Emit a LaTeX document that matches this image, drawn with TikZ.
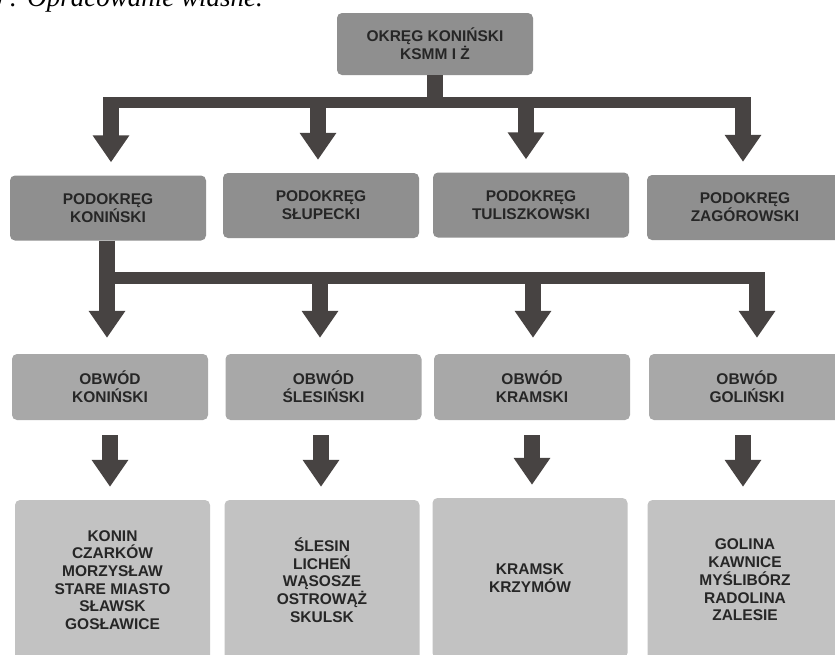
\documentclass[tikz,border=0pt]{standalone}
\usepackage{fontspec}
\setmainfont{Liberation Sans}
\newfontfamily\capfont{Liberation Serif}
\usetikzlibrary{arrows.meta}

\definecolor{boxdark}{HTML}{8F8F8F}
\definecolor{boxmid}{HTML}{A8A8A8}
\definecolor{boxlight}{HTML}{C2C2C2}
\definecolor{arrowgray}{HTML}{474342}

\begin{document}
\begin{tikzpicture}[x=1pt, y=-1pt]
    % Define styles
    \tikzset{
        orgbox/.style={rounded corners=5pt, minimum width=196pt, align=center, inner sep=0pt,
            text=black!85, font=\bfseries\fontsize{15.5}{17.7}\selectfont},
        okregbox/.style={orgbox, fill=boxdark, minimum height=62pt},
        podbox/.style={orgbox, fill=boxdark, minimum height=65pt},
        obwodbox/.style={orgbox, fill=boxmid, minimum height=66pt},
        placebox/.style={orgbox, fill=boxlight, minimum height=160pt, minimum width=195pt},
        barline/.style={arrowgray, line width=11.5pt},
        stemline/.style={arrowgray, line width=16pt},
        blockarrow/.style={stemline, -{Triangle[width=35pt, length=27pt]}}
    }

    % Page size
    \useasboundingbox (0,0) rectangle (835,654);
    \fill[white] (0,0) rectangle (835,654);

    % Source line (cut at the top)
    \node[anchor=base west, inner sep=0pt, font=\capfont\itshape\fontsize{27}{32}\selectfont]
        (zrodlo) at (-6.6,6) {) : Opracowanie własne.};

    % Top level
    \node[okregbox] (okreg) at (435,44) {OKRĘG KONIŃSKI\\KSMM I Ż};

    % Subdistricts
    \node[podbox] (konin) at (108,208) {PODOKRĘG\\KONIŃSKI};
    \node[podbox] (slupca) at (321,205.5) {PODOKRĘG\\SŁUPECKI};
    \node[podbox] (tuliszkow) at (531,205) {PODOKRĘG\\TULISZKOWSKI};
    \node[podbox] (zagorow) at (745,207.5) {PODOKRĘG\\ZAGÓROWSKI};

    % Circuits
    \node[obwodbox] (obkonin) at (110,387) {OBWÓD\\KONIŃSKI};
    \node[obwodbox] (obslesin) at (323.5,387) {OBWÓD\\ŚLESIŃSKI};
    \node[obwodbox] (obkramsk) at (532,387) {OBWÓD\\KRAMSKI};
    \node[obwodbox] (obgolina) at (747,387) {OBWÓD\\GOLIŃSKI};

    % Places
    \node[placebox] (mkonin) at (112.5,580) {KONIN\\CZARKÓW\\MORZYSŁAW\\STARE MIASTO\\SŁAWSK\\GOSŁAWICE};
    \node[placebox] (mslesin) at (322,580) {ŚLESIN\\LICHEŃ\\WĄSOSZE\\OSTROWĄŻ\\SKULSK};
    \node[placebox] (mkramsk) at (530,578) {KRAMSK\\KRZYMÓW};
    \node[placebox] (mgolina) at (745,580) {GOLINA\\KAWNICE\\MYŚLIBÓRZ\\RADOLINA\\ZALESIE};

    % First fork
    \coordinate (b1) at (111,102.5);
    \coordinate (b2) at (318,102.5);
    \coordinate (b3) at (526,102.5);
    \coordinate (b4) at (743,102.5);
    \draw[stemline] (okreg.south) -- (okreg.south |- b1);
    \draw[barline] ([xshift=-8pt]b1) -- ([xshift=8pt]b4);
    \foreach \c/\n in {b1/konin, b2/slupca, b3/tuliszkow, b4/zagorow}
        \draw[blockarrow, shorten >=13pt] (\c) -- (\c |- \n.north);

    % Second fork
    \coordinate (d1) at (107,278);
    \coordinate (d2) at (320,278);
    \coordinate (d3) at (533,278);
    \coordinate (d4) at (757,278);
    \draw[stemline] (d1 |- konin.south) -- (d1);
    \draw[barline] ([xshift=-8pt]d1) -- ([xshift=8pt]d4);
    \foreach \c/\n in {d1/obkonin, d2/obslesin, d3/obkramsk, d4/obgolina}
        \draw[blockarrow, shorten >=16pt] (\c) -- (\c |- \n.north);

    % Circuits to places
    \foreach \o/\m/\dx in {obkonin/mkonin/0, obslesin/mslesin/-2.5, obkramsk/mkramsk/0, obgolina/mgolina/-4}
        \draw[blockarrow, shorten <=15pt, shorten >=13pt]
            ([xshift=\dx pt]\o.south) -- ([xshift=\dx pt]\o.south |- \m.north);

\end{tikzpicture}
\end{document}
